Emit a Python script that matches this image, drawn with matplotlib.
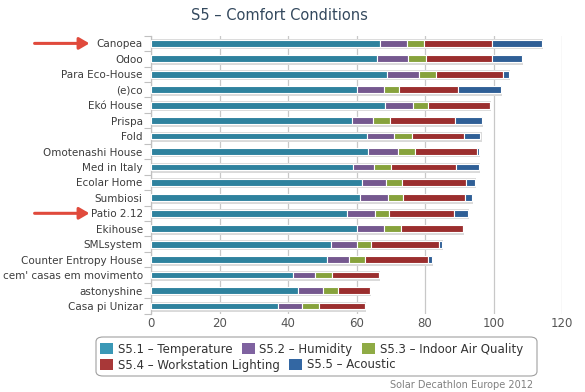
import numpy as np
import matplotlib.pyplot as plt
from matplotlib.patches import FancyBboxPatch, Patch

houses = ['Canopea', 'Odoo', 'Para Eco-House', '(e)co', 'Ekó House', 'Prispa', 'Fold',
          'Omotenashi House', 'Med in Italy', 'Ecolar Home', 'Sumbiosi', 'Patio 2.12',
          'Ekihouse', 'SMLsystem', 'Counter Entropy House', "cem' casas em movimento",
          'astonyshine', 'Casa pi Unizar']
temperature = [66.9, 65.9, 68.8, 60.0, 68.2, 58.6, 63.0, 63.4, 58.9, 61.7, 61.0, 57.3, 60.0, 52.6, 51.5, 41.4, 43.0, 37.0]
humidity = [7.8, 9.2, 9.4, 8.1, 8.4, 6.3, 8.0, 8.8, 6.3, 6.8, 8.1, 8.2, 8.1, 7.4, 6.3, 6.5, 7.3, 7.1]
air_quality = [5.1, 5.1, 5.1, 4.2, 4.4, 4.9, 5.1, 4.9, 4.9, 4.7, 4.4, 3.9, 4.8, 4.1, 4.7, 5.0, 4.4, 4.9]
lighting = [19.7, 19.3, 19.4, 17.4, 17.9, 19.0, 15.4, 18.1, 19.0, 18.8, 18.2, 19.1, 18.2, 20.1, 18.5, 13.6, 9.3, 13.5]
acoustic = [14.7, 8.9, 1.9, 12.6, 0, 7.7, 4.7, 0.7, 6.8, 2.7, 2.0, 4.1, 0, 0.8, 1.0, 0, 0, 0]
highlighted = ['Canopea', 'Patio 2.12']

series = [temperature, humidity, air_quality, lighting, acoustic]
names = ['S5.1 – Temperature', 'S5.2 – Humidity', 'S5.3 – Indoor Air Quality',
         'S5.4 – Workstation Lighting', 'S5.5 – Acoustic']
colors = ['#2e829e', '#75588f', '#87a23c', '#9b2e2e', '#2f5f96']
legend_colors = ['#3a98b6', '#7f62a0', '#8fab45', '#a83838', '#3367a3']

fig = plt.figure(figsize=(5.85, 3.92), dpi=100)
ax = fig.add_axes([151/585, 0.1997, 411/585, 0.7093])

y = np.arange(len(houses))
totals = np.sum(series, axis=0)
# soft grey shadow behind each stacked bar
ax.barh(y + 0.06, totals + 0.5, left=-0.2, height=0.64, color='#dadada', zorder=2)
left = np.zeros(len(houses))
for vals, c in zip(series, colors):
    ax.barh(y, vals, left=left, height=0.44, color=c, edgecolor='white', linewidth=0.8, zorder=3)
    left += np.array(vals)

ax.set_xlim(0, 120)
ax.set_ylim(len(houses) - 0.5, -0.5)
ax.set_xticks(np.arange(0, 121, 20))
ax.set_yticks(y)
ax.set_yticklabels(houses)
ax.set_yticks(np.arange(-0.5, len(houses), 1), minor=True)
ax.tick_params(axis='y', which='major', length=0, pad=6, labelsize=7.5, labelcolor='#3c3c3c')
ax.tick_params(axis='y', which='minor', length=5, color='#c0c0c0', width=0.8)
ax.tick_params(axis='x', length=0, pad=2.5, labelsize=8.5, labelcolor='#555555')
ax.grid(axis='x', color='#c8c8c8', linewidth=0.9, zorder=0)
ax.set_axisbelow(True)
for s in ['top', 'right', 'bottom']:
    ax.spines[s].set_visible(False)
ax.spines['left'].set_color('#c0c0c0')
ax.spines['left'].set_linewidth(0.9)

fig.text(0.478, 0.96, 'S5 – Comfort Conditions', ha='center', va='center',
         fontsize=10.5, color='#34495e')

# red arrows pointing at two houses
for h in highlighted:
    ax.annotate('', xy=(-0.143, houses.index(h)), xytext=(-0.29, houses.index(h)),
                xycoords=('axes fraction', 'data'), textcoords=('axes fraction', 'data'),
                arrowprops=dict(arrowstyle='-|>,head_length=0.6,head_width=0.35',
                                color='#e04a3c', lw=2.2), annotation_clip=False)

# legend laid out as two rows inside one rounded box
handles = [Patch(facecolor=c, edgecolor='none') for c in legend_colors]
box = FancyBboxPatch((96/585, 16/392), 441/585, 39/392, boxstyle='round,pad=0,rounding_size=0.012',
                     transform=fig.transFigure, facecolor='white', edgecolor='#a0a0a0', linewidth=0.8)
fig.patches.append(box)
leg_kw = dict(frameon=False, fontsize=8.5, handlelength=1.1, handleheight=1.1, handletextpad=0.4,
              columnspacing=0.8, borderaxespad=0, borderpad=0, labelcolor='#333333')
leg1 = fig.legend(handles[:3], names[:3], ncol=3, loc='center left',
                  bbox_to_anchor=(100/585, 1 - 349/392), **leg_kw)
leg2 = fig.legend(handles[3:], names[3:], ncol=2, loc='center left',
                  bbox_to_anchor=(100/585, 1 - 365/392), **leg_kw)

fig.text(533/585, 1 - 385/392, 'Solar Decathlon Europe 2012', ha='right', va='center',
         fontsize=7, color='#808080')

plt.savefig('out.png', dpi=100)
